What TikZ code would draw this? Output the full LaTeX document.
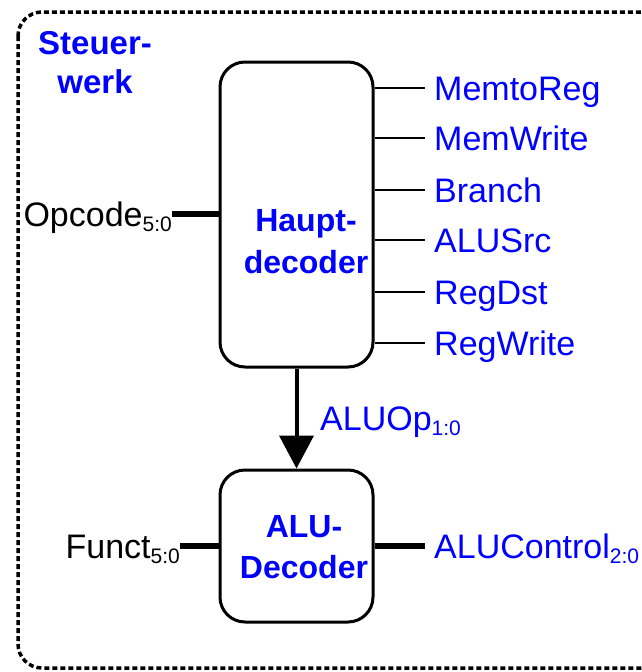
\documentclass[tikz,border=0pt]{standalone}
\usepackage{fontspec}
\setmainfont{Liberation Sans}
\usetikzlibrary{positioning}
\usetikzlibrary{arrows.meta}

\newcommand{\idx}[1]{\raisebox{-5.5pt}{\fontsize{21}{21}\selectfont #1}}

\begin{document}
\begin{tikzpicture}[
    x=1pt, y=-1pt,
    font=\fontsize{34}{42}\selectfont
]
\tikzset{
    block/.style = {draw=black, line width=3pt, rounded corners=25pt, minimum width=153pt, inner sep=0pt},
    title/.style = {text=blue, font=\bfseries\fontsize{32}{42}\selectfont, align=center},
    sig/.style = {anchor=west, text=blue, inner xsep=9pt, inner ysep=0pt, text height=24pt, text depth=0pt},
    insig/.style = {anchor=east, inner xsep=0pt, inner ysep=0pt, text height=24pt, text depth=0pt},
    wire/.style = {line width=1.8pt},
    bus/.style = {line width=6pt},
    ctrl/.style = {-{Triangle[width=34pt,length=33pt]}, line width=4pt}
}
\useasboundingbox (0,0) rectangle (642,672);
\clip (0,0) rectangle (642,672);
% control unit frame
\draw[line width=3.5pt, dash pattern=on 5pt off 3pt, rounded corners=24pt] (18,12) rectangle (665,668);
\node[title, font=\bfseries\fontsize{33}{39}\selectfont] at (95,63) (steuer) {Steuer-\\werk};
% decoders
\node[block, minimum height=305pt] at (296.5,214.5) (haupt) {};
\node[block, minimum height=152pt] at (296.5,546) (aludec) {};
\node[title] at (306,242) (hauptname) {Haupt-\\decoder};
\node[title, font=\bfseries\fontsize{32}{41}\selectfont] at (304,547) (aluname) {ALU-\\Decoder};
% inputs
\node[insig] at (172,214) (opcode) {Opcode\idx{5:0}};
\node[insig] at (180,546) (funct) {Funct\idx{5:0}};
\draw[bus] (opcode.east) -- (haupt.west |- opcode.east);
\draw[bus] (funct.east) -- (aludec.west |- funct.east);
% control signals
\node[sig] at (425,88) (memtoreg) {MemtoReg};
\node[sig] at (425,138) (memwrite) {MemWrite};
\node[sig] at (425,190) (branch) {Branch};
\node[sig] at (425,240) (alusrc) {ALUSrc};
\node[sig] at (425,292) (regdst) {RegDst};
\node[sig] at (425,343) (regwrite) {RegWrite};
\draw[wire] (haupt.east |- memtoreg.west) -- (memtoreg.west);
\draw[wire] (haupt.east |- memwrite.west) -- (memwrite.west);
\draw[wire] (haupt.east |- branch.west) -- (branch.west);
\draw[wire] (haupt.east |- alusrc.west) -- (alusrc.west);
\draw[wire] (haupt.east |- regdst.west) -- (regdst.west);
\draw[wire] (haupt.east |- regwrite.west) -- (regwrite.west);
% ALUOp
\draw[ctrl] (haupt.south) -- (aludec.north);
\node[sig] at (311,418) (aluop) {ALUOp\idx{1:0}};
% ALU control
\node[sig] at (425,546) (aluctrl) {ALUControl\idx{2:0}};
\draw[bus] (aludec.east |- aluctrl.west) -- (aluctrl.west);
\end{tikzpicture}
\end{document}
